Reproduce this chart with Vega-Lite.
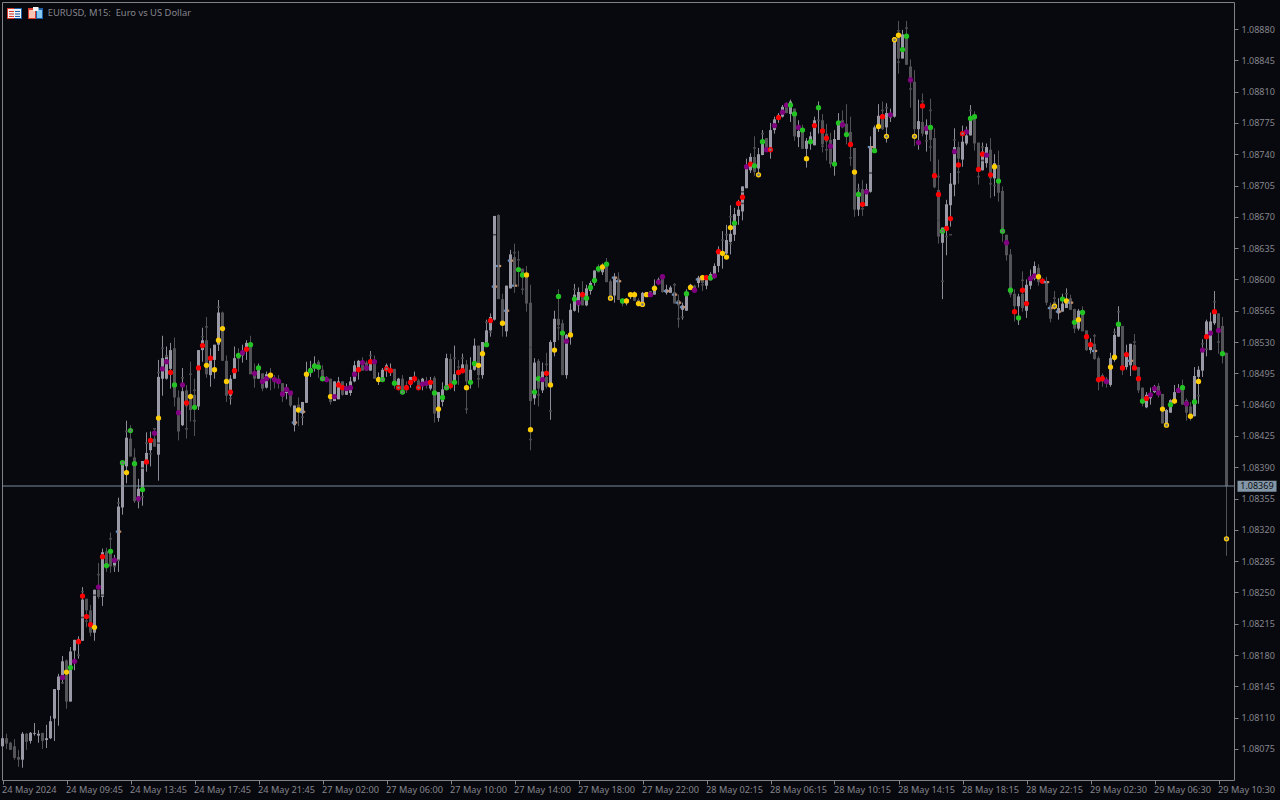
{"$schema":"https://vega.github.io/schema/vega-lite/v6.json","width":1232,"height":778,"autosize":{"type":"none"},"padding":{"left":2,"top":2,"right":46,"bottom":20},"background":"#08090e","config":{"view":{"stroke":"#7f8389","strokeWidth":1,"fill":"#08090e"}},
"datasets":{"bars":[
{"i":0,"o":1.08078,"h":1.08089,"l":1.08078,"c":1.08087},
{"i":1,"o":1.08087,"h":1.08092,"l":1.08075,"c":1.08081},
{"i":2,"o":1.08082,"h":1.08083,"l":1.08074,"c":1.08074},
{"i":3,"o":1.08078,"h":1.08086,"l":1.08063,"c":1.08065},
{"i":4,"o":1.08066,"h":1.08074,"l":1.08055,"c":1.08063},
{"i":5,"o":1.08063,"h":1.08094,"l":1.08054,"c":1.08092},
{"i":6,"o":1.08092,"h":1.08093,"l":1.08074,"c":1.08083},
{"i":7,"o":1.08084,"h":1.08094,"l":1.08081,"c":1.08093},
{"i":8,"o":1.08092,"h":1.08104,"l":1.0809,"c":1.08093},
{"i":9,"o":1.0809,"h":1.08096,"l":1.08082,"c":1.08092},
{"i":10,"o":1.08093,"h":1.08093,"l":1.08075,"c":1.08084},
{"i":11,"o":1.08085,"h":1.08102,"l":1.08076,"c":1.08087},
{"i":12,"o":1.08087,"h":1.08112,"l":1.08086,"c":1.08106},
{"i":13,"o":1.08109,"h":1.08142,"l":1.08084,"c":1.08142},
{"i":14,"o":1.08141,"h":1.08159,"l":1.08101,"c":1.08156},
{"i":15,"o":1.08156,"h":1.08179,"l":1.08148,"c":1.08173,"p":1.08155,"m":"purple"},
{"i":16,"o":1.08174,"h":1.08175,"l":1.0812,"c":1.08128,"p":1.08161,"m":"yellow"},
{"i":17,"o":1.08128,"h":1.08189,"l":1.08128,"c":1.08184,"p":1.08166,"m":"green"},
{"i":18,"o":1.08185,"h":1.08197,"l":1.08163,"c":1.08197,"p":1.08173,"m":"purple"},
{"i":19,"o":1.08195,"h":1.08201,"l":1.08176,"c":1.08198,"p":1.08195,"m":"red"},
{"i":20,"o":1.08196,"h":1.08256,"l":1.08196,"c":1.08242,"p":1.08246,"m":"red"},
{"i":21,"o":1.08243,"h":1.08243,"l":1.08211,"c":1.0823,"p":1.08223,"m":"red"},
{"i":22,"o":1.0823,"h":1.08236,"l":1.08201,"c":1.08205,"p":1.08214,"m":"red"},
{"i":23,"o":1.08205,"h":1.08253,"l":1.08196,"c":1.08253,"p":1.08211,"m":"yellow"},
{"i":24,"o":1.08253,"h":1.08283,"l":1.08243,"c":1.08245,"p":1.08256,"m":"purple"},
{"i":25,"o":1.08245,"h":1.08299,"l":1.08235,"c":1.08295,"p":1.0829,"m":"red"},
{"i":26,"o":1.08296,"h":1.083,"l":1.08273,"c":1.08277,"p":1.0828,"m":"green"},
{"i":27,"o":1.08294,"h":1.08317,"l":1.08272,"c":1.08279,"p":1.08296,"m":"green"},
{"i":28,"o":1.0828,"h":1.08292,"l":1.08273,"c":1.08288,"p":1.08286,"m":"purple"},
{"i":29,"o":1.08286,"h":1.08356,"l":1.08273,"c":1.08346,"p":1.08318,"m":"blue"},
{"i":30,"o":1.08345,"h":1.08397,"l":1.08337,"c":1.08396,"p":1.08395,"m":"green ring"},
{"i":31,"o":1.08391,"h":1.08442,"l":1.08372,"c":1.08423,"p":1.08384,"m":"yellow"},
{"i":32,"o":1.08422,"h":1.08437,"l":1.08402,"c":1.08402,"p":1.08431,"m":"green ring"},
{"i":33,"o":1.08401,"h":1.08411,"l":1.0835,"c":1.08352,"p":1.08394,"m":"green"},
{"i":34,"o":1.08353,"h":1.08377,"l":1.08344,"c":1.08366,"p":1.08355,"m":"purple"},
{"i":35,"o":1.08366,"h":1.08397,"l":1.08347,"c":1.08397,"p":1.08365,"m":"green"},
{"i":36,"o":1.08396,"h":1.08429,"l":1.08385,"c":1.08406,"p":1.08396,"m":"red"},
{"i":37,"o":1.08409,"h":1.0843,"l":1.08391,"c":1.08422,"p":1.0842,"m":"red"},
{"i":38,"o":1.08422,"h":1.08433,"l":1.08413,"c":1.08413,"p":1.08428,"m":"purple"},
{"i":39,"o":1.08404,"h":1.0851,"l":1.08375,"c":1.08491,"p":1.08445,"m":"yellow"},
{"i":40,"o":1.08489,"h":1.08537,"l":1.0847,"c":1.08512,"p":1.085,"m":"purple"},
{"i":41,"o":1.08489,"h":1.08525,"l":1.08488,"c":1.08515,"p":1.08508,"m":"purple"},
{"i":42,"o":1.085,"h":1.08529,"l":1.08478,"c":1.08521,"p":1.08496,"m":"red"},
{"i":43,"o":1.08523,"h":1.08535,"l":1.08458,"c":1.08468,"p":1.08482,"m":"green"},
{"i":44,"o":1.08468,"h":1.08476,"l":1.0842,"c":1.0843,"p":1.08451,"m":"purple"},
{"i":45,"o":1.08437,"h":1.08501,"l":1.08436,"c":1.08475,"p":1.08482,"m":"purple"},
{"i":46,"o":1.08476,"h":1.08482,"l":1.08422,"c":1.08458,"p":1.08462,"m":"red"},
{"i":47,"o":1.08472,"h":1.08508,"l":1.08441,"c":1.08454,"p":1.08469,"m":"yellow"},
{"i":48,"o":1.08471,"h":1.08489,"l":1.08425,"c":1.08456,"p":1.08457,"m":"green"},
{"i":49,"o":1.08458,"h":1.08521,"l":1.08454,"c":1.08521,"p":1.08501,"m":"red"},
{"i":50,"o":1.08521,"h":1.08546,"l":1.08508,"c":1.08532,"p":1.08526,"m":"red"},
{"i":51,"o":1.08532,"h":1.08558,"l":1.0849,"c":1.08494,"p":1.08504,"m":"yellow"},
{"i":52,"o":1.08493,"h":1.08523,"l":1.0848,"c":1.08514,"p":1.08512,"m":"red"},
{"i":53,"o":1.0851,"h":1.08527,"l":1.08489,"c":1.08527,"p":1.08499,"m":"yellow"},
{"i":54,"o":1.08527,"h":1.08577,"l":1.0852,"c":1.08563,"p":1.08532,"m":"yellow"},
{"i":55,"o":1.08563,"h":1.08564,"l":1.08509,"c":1.08509,"p":1.08545,"m":"yellow"},
{"i":56,"o":1.08509,"h":1.08515,"l":1.08463,"c":1.0847,"p":1.08486,"m":"yellow"},
{"i":57,"o":1.0847,"h":1.08493,"l":1.0846,"c":1.08489,"p":1.08474,"m":"red"},
{"i":58,"o":1.08489,"h":1.08525,"l":1.08489,"c":1.08512,"p":1.08498,"m":"red"},
{"i":59,"o":1.08515,"h":1.08523,"l":1.08497,"c":1.08511,"p":1.08515,"m":"green"},
{"i":60,"o":1.08515,"h":1.08527,"l":1.08507,"c":1.08518,"p":1.08518,"m":"purple"},
{"i":61,"o":1.08521,"h":1.08532,"l":1.0851,"c":1.08529,"p":1.08522,"m":"red"},
{"i":62,"o":1.08527,"h":1.08537,"l":1.08494,"c":1.08494,"p":1.08527,"m":"green"},
{"i":63,"o":1.08495,"h":1.08506,"l":1.08479,"c":1.08489,"p":1.08495,"m":"purple"},
{"i":64,"o":1.08489,"h":1.08506,"l":1.08489,"c":1.08501,"p":1.08501,"m":"green"},
{"i":65,"o":1.08495,"h":1.08495,"l":1.08475,"c":1.08478,"p":1.08486,"m":"purple"},
{"i":66,"o":1.08479,"h":1.08497,"l":1.08478,"c":1.08494,"p":1.08489,"m":"purple"},
{"i":67,"o":1.08494,"h":1.08501,"l":1.08476,"c":1.08489,"p":1.08493,"m":"yellow"},
{"i":68,"o":1.08489,"h":1.08493,"l":1.08478,"c":1.08485,"p":1.08488,"m":"purple"},
{"i":69,"o":1.08489,"h":1.08493,"l":1.08478,"c":1.08485,"p":1.08486,"m":"purple"},
{"i":70,"o":1.08484,"h":1.08484,"l":1.08463,"c":1.08469,"p":1.08472,"m":"purple"},
{"i":71,"o":1.08473,"h":1.08483,"l":1.08466,"c":1.08478,"p":1.08477,"m":"purple"},
{"i":72,"o":1.08475,"h":1.08475,"l":1.08457,"c":1.08459,"p":1.08473,"m":"purple"},
{"i":73,"o":1.08437,"h":1.08459,"l":1.0843,"c":1.08459,"p":1.0844,"m":"blue"},
{"i":74,"o":1.0846,"h":1.08468,"l":1.08436,"c":1.08454,"p":1.08454,"m":"yellow"},
{"i":75,"o":1.0845,"h":1.08463,"l":1.08437,"c":1.08463,"p":1.08452,"m":"blue"},
{"i":76,"o":1.08462,"h":1.08508,"l":1.08462,"c":1.08493,"p":1.08494,"m":"yellow"},
{"i":77,"o":1.08497,"h":1.08509,"l":1.08491,"c":1.08501,"p":1.08498,"m":"green"},
{"i":78,"o":1.08503,"h":1.08514,"l":1.08497,"c":1.08506,"p":1.08503,"m":"green"},
{"i":79,"o":1.08508,"h":1.0851,"l":1.0849,"c":1.08499,"p":1.08502,"m":"green"},
{"i":80,"o":1.08499,"h":1.08504,"l":1.08486,"c":1.08489,"p":1.08489,"m":"green ring"},
{"i":81,"o":1.08491,"h":1.08492,"l":1.08485,"c":1.08486,"p":1.08488,"m":"purple"},
{"i":82,"o":1.08489,"h":1.08489,"l":1.0846,"c":1.08463,"p":1.08469,"m":"yellow"},
{"i":83,"o":1.08464,"h":1.08486,"l":1.08464,"c":1.08486,"p":1.08469,"m":"purple"},
{"i":84,"o":1.08466,"h":1.08491,"l":1.08466,"c":1.08486,"p":1.08482,"m":"red"},
{"i":85,"o":1.08486,"h":1.08486,"l":1.0847,"c":1.08471,"p":1.08479,"m":"red"},
{"i":86,"o":1.08471,"h":1.08484,"l":1.08471,"c":1.0848,"p":1.08478,"m":"purple"},
{"i":87,"o":1.08473,"h":1.08491,"l":1.0847,"c":1.08486,"p":1.08479,"m":"purple"},
{"i":88,"o":1.08486,"h":1.08509,"l":1.08485,"c":1.08504,"p":1.08494,"m":"purple"},
{"i":89,"o":1.08497,"h":1.0851,"l":1.08488,"c":1.08509,"p":1.08499,"m":"red"},
{"i":90,"o":1.08509,"h":1.08513,"l":1.08498,"c":1.08498,"p":1.08507,"m":"purple"},
{"i":91,"o":1.08507,"h":1.08509,"l":1.08498,"c":1.08498,"p":1.08501,"m":"purple"},
{"i":92,"o":1.08498,"h":1.0852,"l":1.08498,"c":1.0851,"p":1.08508,"m":"red"},
{"i":93,"o":1.0851,"h":1.08515,"l":1.08489,"c":1.08489,"p":1.08508,"m":"purple"},
{"i":94,"o":1.08486,"h":1.08496,"l":1.08482,"c":1.08491,"p":1.08488,"m":"yellow"},
{"i":95,"o":1.08488,"h":1.08501,"l":1.08486,"c":1.08499,"p":1.08488,"m":"green ring"},
{"i":96,"o":1.08499,"h":1.08506,"l":1.08491,"c":1.08504,"p":1.085,"m":"red ring"},
{"i":97,"o":1.08497,"h":1.08506,"l":1.08492,"c":1.085,"p":1.08498,"m":"red"},
{"i":98,"o":1.085,"h":1.085,"l":1.08478,"c":1.08482,"p":1.08484,"m":"green"},
{"i":99,"o":1.08482,"h":1.0849,"l":1.08476,"c":1.08489,"p":1.08479,"m":"red ring"},
{"i":100,"o":1.08489,"h":1.08493,"l":1.08471,"c":1.08475,"p":1.08474,"m":"green ring"},
{"i":101,"o":1.08482,"h":1.08486,"l":1.08473,"c":1.08476,"p":1.08479,"m":"red"},
{"i":102,"o":1.08482,"h":1.08491,"l":1.08479,"c":1.08491,"p":1.08485,"m":"red"},
{"i":103,"o":1.08487,"h":1.08497,"l":1.08485,"c":1.08491,"p":1.08489,"m":"red"},
{"i":104,"o":1.08487,"h":1.08489,"l":1.08476,"c":1.08478,"p":1.08479,"m":"red ring"},
{"i":105,"o":1.08482,"h":1.0849,"l":1.08476,"c":1.08489,"p":1.08483,"m":"purple"},
{"i":106,"o":1.08486,"h":1.08491,"l":1.08478,"c":1.08482,"p":1.08484,"m":"purple"},
{"i":107,"o":1.08478,"h":1.08491,"l":1.08476,"c":1.08487,"p":1.08485,"m":"red"},
{"i":108,"o":1.0849,"h":1.08492,"l":1.0844,"c":1.0845,"p":1.08473,"m":"green"},
{"i":109,"o":1.08445,"h":1.08474,"l":1.08441,"c":1.08474,"p":1.08455,"m":"yellow"},
{"i":110,"o":1.08463,"h":1.08485,"l":1.08458,"c":1.08477,"p":1.08468,"m":"green"},
{"i":111,"o":1.08478,"h":1.08517,"l":1.08476,"c":1.08512,"p":1.08479,"m":"green ring"},
{"i":112,"o":1.08511,"h":1.08517,"l":1.08477,"c":1.0848,"p":1.08481,"m":"red"},
{"i":113,"o":1.08485,"h":1.08526,"l":1.08475,"c":1.08494,"p":1.08485,"m":"green"},
{"i":114,"o":1.08499,"h":1.0851,"l":1.08482,"c":1.08495,"p":1.08496,"m":"red"},
{"i":115,"o":1.08497,"h":1.08517,"l":1.08495,"c":1.08505,"p":1.08498,"m":"red"},
{"i":116,"o":1.08505,"h":1.0851,"l":1.0845,"c":1.08486,"p":1.08479,"m":"yellow"},
{"i":117,"o":1.08485,"h":1.08513,"l":1.08478,"c":1.08499,"p":1.08485,"m":"green"},
{"i":118,"o":1.08499,"h":1.08534,"l":1.08498,"c":1.08526,"p":1.08506,"m":"green"},
{"i":119,"o":1.08526,"h":1.08526,"l":1.08479,"c":1.08493,"p":1.08504,"m":"yellow"},
{"i":120,"o":1.08493,"h":1.0853,"l":1.08489,"c":1.0853,"p":1.08517,"m":"yellow"},
{"i":121,"o":1.08527,"h":1.08555,"l":1.08525,"c":1.08543,"p":1.08527,"m":"green"},
{"i":122,"o":1.08543,"h":1.08562,"l":1.08536,"c":1.08558,"p":1.08554,"m":"red"},
{"i":123,"o":1.08555,"h":1.08671,"l":1.08554,"c":1.08671,"p":1.08592,"m":"blue"},
{"i":124,"o":1.08672,"h":1.08673,"l":1.08578,"c":1.08578,"p":1.08615,"m":"blue"},
{"i":125,"o":1.08578,"h":1.08584,"l":1.08536,"c":1.08552,"p":1.08551,"m":"yellow"},
{"i":126,"o":1.08542,"h":1.08593,"l":1.08536,"c":1.08593,"p":1.08565,"m":"blue"},
{"i":127,"o":1.0859,"h":1.08633,"l":1.0859,"c":1.08628,"p":1.08621,"m":"blue"},
{"i":128,"o":1.08625,"h":1.0864,"l":1.08585,"c":1.08592,"p":1.08593,"m":"blue"},
{"i":129,"o":1.08612,"h":1.08632,"l":1.08592,"c":1.08609,"p":1.08611,"m":"green"},
{"i":130,"o":1.08612,"h":1.08612,"l":1.08583,"c":1.08602,"p":1.08605,"m":"green"},
{"i":131,"o":1.08606,"h":1.08615,"l":1.08564,"c":1.08573,"p":1.08605,"m":"yellow"},
{"i":132,"o":1.08574,"h":1.08594,"l":1.08409,"c":1.08464,"p":1.08432,"m":"yellow"},
{"i":133,"o":1.08467,"h":1.08512,"l":1.0846,"c":1.08507,"p":1.08474,"m":"green"},
{"i":134,"o":1.08509,"h":1.08511,"l":1.08458,"c":1.08478,"p":1.08489,"m":"green"},
{"i":135,"o":1.08476,"h":1.08507,"l":1.08473,"c":1.08497,"p":1.08488,"m":"purple"},
{"i":136,"o":1.08491,"h":1.08518,"l":1.08478,"c":1.0848,"p":1.08495,"m":"red"},
{"i":137,"o":1.08482,"h":1.08532,"l":1.08443,"c":1.0853,"p":1.08482,"m":"yellow"},
{"i":138,"o":1.0853,"h":1.08565,"l":1.08514,"c":1.08556,"p":1.08521,"m":"yellow"},
{"i":139,"o":1.08556,"h":1.08589,"l":1.08532,"c":1.08549,"p":1.08581,"m":"green"},
{"i":140,"o":1.08551,"h":1.08555,"l":1.08493,"c":1.08493,"p":1.0854,"m":"green"},
{"i":141,"o":1.08493,"h":1.08539,"l":1.08489,"c":1.08538,"p":1.08531,"m":"purple"},
{"i":142,"o":1.08538,"h":1.08573,"l":1.08527,"c":1.08566,"p":1.08538,"m":"yellow"},
{"i":143,"o":1.08565,"h":1.08595,"l":1.08564,"c":1.08583,"p":1.08578,"m":"green"},
{"i":144,"o":1.08571,"h":1.08591,"l":1.08563,"c":1.08586,"p":1.08574,"m":"purple"},
{"i":145,"o":1.08586,"h":1.08598,"l":1.08571,"c":1.08571,"p":1.08583,"m":"red"},
{"i":146,"o":1.08571,"h":1.08594,"l":1.0857,"c":1.0859,"p":1.08579,"m":"green"},
{"i":147,"o":1.08587,"h":1.08598,"l":1.08583,"c":1.08596,"p":1.08591,"m":"green"},
{"i":148,"o":1.08596,"h":1.0861,"l":1.08593,"c":1.0861,"p":1.08599,"m":"green"},
{"i":149,"o":1.08614,"h":1.08617,"l":1.08608,"c":1.08608,"p":1.08612,"m":"green"},
{"i":150,"o":1.08608,"h":1.08618,"l":1.08605,"c":1.08615,"p":1.08614,"m":"yellow"},
{"i":151,"o":1.08618,"h":1.08624,"l":1.08597,"c":1.08597,"p":1.08617,"m":"green"},
{"i":152,"o":1.08598,"h":1.086,"l":1.08576,"c":1.08579,"p":1.08579,"m":"yellow ring"},
{"i":153,"o":1.08582,"h":1.08607,"l":1.08574,"c":1.08603,"p":1.08602,"m":"blue"},
{"i":154,"o":1.08601,"h":1.08608,"l":1.08577,"c":1.08577,"p":1.08598,"m":"blue"},
{"i":155,"o":1.08578,"h":1.08579,"l":1.0857,"c":1.08573,"p":1.08576,"m":"green"},
{"i":156,"o":1.08574,"h":1.08579,"l":1.08571,"c":1.08578,"p":1.08576,"m":"yellow"},
{"i":157,"o":1.08581,"h":1.08585,"l":1.08578,"c":1.08584,"p":1.08583,"m":"yellow"},
{"i":158,"o":1.08585,"h":1.08587,"l":1.08576,"c":1.08576,"p":1.08583,"m":"yellow"},
{"i":159,"o":1.08577,"h":1.08579,"l":1.0857,"c":1.0857,"p":1.08573,"m":"yellow"},
{"i":160,"o":1.08571,"h":1.08586,"l":1.0857,"c":1.08585,"p":1.08572,"m":"yellow ring"},
{"i":161,"o":1.08581,"h":1.08586,"l":1.08581,"c":1.08586,"p":1.08583,"m":"yellow"},
{"i":162,"o":1.08587,"h":1.08587,"l":1.08581,"c":1.08581,"p":1.08583,"m":"purple"},
{"i":163,"o":1.08583,"h":1.086,"l":1.08583,"c":1.08593,"p":1.0859,"m":"yellow"},
{"i":164,"o":1.08596,"h":1.08602,"l":1.08594,"c":1.086,"p":1.08597,"m":"purple"},
{"i":165,"o":1.08602,"h":1.08605,"l":1.08585,"c":1.08586,"p":1.08603,"m":"purple"},
{"i":166,"o":1.08585,"h":1.08594,"l":1.08583,"c":1.08589,"p":1.08587,"m":"blue"},
{"i":167,"o":1.08585,"h":1.08593,"l":1.08585,"c":1.08591},
{"i":168,"o":1.08586,"h":1.08596,"l":1.08573,"c":1.08573,"p":1.08583,"m":"blue"},
{"i":169,"o":1.08577,"h":1.08583,"l":1.08546,"c":1.08571,"p":1.08574,"m":"blue"},
{"i":170,"o":1.08566,"h":1.08574,"l":1.08555,"c":1.08571,"p":1.08569,"m":"blue"},
{"i":171,"o":1.08565,"h":1.08589,"l":1.08565,"c":1.08586,"p":1.08584,"m":"green"},
{"i":172,"o":1.08589,"h":1.08595,"l":1.08588,"c":1.08594,"p":1.08591,"m":"yellow"},
{"i":173,"o":1.08593,"h":1.08594,"l":1.08585,"c":1.08586,"p":1.08588,"m":"purple"},
{"i":174,"o":1.08596,"h":1.08604,"l":1.08591,"c":1.08602,"p":1.086,"m":"blue"},
{"i":175,"o":1.08604,"h":1.08605,"l":1.08587,"c":1.08596,"p":1.08602,"m":"yellow"},
{"i":176,"o":1.08593,"h":1.08605,"l":1.08589,"c":1.08604,"p":1.08602,"m":"red"},
{"i":177,"o":1.08599,"h":1.08608,"l":1.08599,"c":1.08606,"p":1.08602,"m":"green"},
{"i":178,"o":1.08605,"h":1.08618,"l":1.08601,"c":1.08615,"p":1.08604,"m":"purple"},
{"i":179,"o":1.08615,"h":1.08637,"l":1.08608,"c":1.08633,"p":1.08631,"m":"red"},
{"i":180,"o":1.08627,"h":1.08654,"l":1.08612,"c":1.08631,"p":1.08629,"m":"yellow"},
{"i":181,"o":1.08629,"h":1.08661,"l":1.08625,"c":1.08644,"p":1.08625,"m":"yellow"},
{"i":182,"o":1.08642,"h":1.08683,"l":1.08628,"c":1.08651,"p":1.08658,"m":"yellow"},
{"i":183,"o":1.0865,"h":1.0868,"l":1.08643,"c":1.08673,"p":1.08663,"m":"green"},
{"i":184,"o":1.08671,"h":1.08689,"l":1.08661,"c":1.08678,"p":1.08685,"m":"red"},
{"i":185,"o":1.08676,"h":1.08704,"l":1.08666,"c":1.08704,"p":1.08692,"m":"red"},
{"i":186,"o":1.08702,"h":1.08735,"l":1.08702,"c":1.08724,"p":1.08726,"m":"purple"},
{"i":187,"o":1.08722,"h":1.08741,"l":1.08719,"c":1.08737,"p":1.08729,"m":"red"},
{"i":188,"o":1.08737,"h":1.0876,"l":1.08716,"c":1.0872,"p":1.08727,"m":"green"},
{"i":189,"o":1.08724,"h":1.08747,"l":1.08717,"c":1.0874,"p":1.08717,"m":"yellow ring"},
{"i":190,"o":1.08739,"h":1.08767,"l":1.08739,"c":1.08756,"p":1.08754,"m":"green"},
{"i":191,"o":1.08758,"h":1.08758,"l":1.08743,"c":1.08743,"p":1.08745,"m":"purple"},
{"i":192,"o":1.08745,"h":1.08775,"l":1.08735,"c":1.08767,"p":1.08745,"m":"red ring"},
{"i":193,"o":1.08767,"h":1.08782,"l":1.08763,"c":1.08779,"p":1.08772,"m":"purple"},
{"i":194,"o":1.0878,"h":1.08786,"l":1.08775,"c":1.08784,"p":1.08781,"m":"red"},
{"i":195,"o":1.08782,"h":1.08795,"l":1.08781,"c":1.08793,"p":1.08787,"m":"purple"},
{"i":196,"o":1.08797,"h":1.08798,"l":1.08786,"c":1.08786,"p":1.08795,"m":"purple"},
{"i":197,"o":1.08785,"h":1.08801,"l":1.08776,"c":1.08799,"p":1.08795,"m":"green"},
{"i":198,"o":1.08791,"h":1.08791,"l":1.08755,"c":1.0876,"p":1.08785,"m":"green"},
{"i":199,"o":1.08759,"h":1.08778,"l":1.08748,"c":1.08766,"p":1.0877,"m":"purple"},
{"i":200,"o":1.08767,"h":1.08773,"l":1.08746,"c":1.08746,"p":1.08767,"m":"green"},
{"i":201,"o":1.08746,"h":1.08758,"l":1.08725,"c":1.08755,"p":1.08735,"m":"yellow"},
{"i":202,"o":1.08752,"h":1.08765,"l":1.08745,"c":1.0876,"p":1.08754,"m":"green"},
{"i":203,"o":1.0875,"h":1.08782,"l":1.0875,"c":1.08778,"p":1.08772,"m":"red"},
{"i":204,"o":1.08777,"h":1.08799,"l":1.08763,"c":1.08778,"p":1.08792,"m":"green"},
{"i":205,"o":1.08778,"h":1.08785,"l":1.08742,"c":1.08751,"p":1.08766,"m":"red"},
{"i":206,"o":1.08763,"h":1.08774,"l":1.08733,"c":1.08754,"p":1.08758,"m":"red"},
{"i":207,"o":1.08756,"h":1.08764,"l":1.08725,"c":1.08729,"p":1.08749,"m":"purple"},
{"i":208,"o":1.08729,"h":1.08767,"l":1.08716,"c":1.08757,"p":1.08729,"m":"green"},
{"i":209,"o":1.08756,"h":1.08786,"l":1.08756,"c":1.08776,"p":1.08775,"m":"green"},
{"i":210,"o":1.08778,"h":1.08789,"l":1.08769,"c":1.0877,"p":1.08773,"m":"purple"},
{"i":211,"o":1.08774,"h":1.08796,"l":1.08751,"c":1.08761,"p":1.08762,"m":"green"},
{"i":212,"o":1.08765,"h":1.08782,"l":1.08727,"c":1.08748,"p":1.08751,"m":"red"},
{"i":213,"o":1.08747,"h":1.08747,"l":1.0867,"c":1.08678,"p":1.0872,"m":"yellow"},
{"i":214,"o":1.08678,"h":1.08707,"l":1.08671,"c":1.08698,"p":1.08695,"m":"green"},
{"i":215,"o":1.08701,"h":1.08711,"l":1.08671,"c":1.08681,"p":1.08684,"m":"red"},
{"i":216,"o":1.08682,"h":1.08707,"l":1.08682,"c":1.08701,"p":1.08698,"m":"purple"},
{"i":217,"o":1.08698,"h":1.0876,"l":1.08697,"c":1.08749,"p":1.08748,"m":"blue"},
{"i":218,"o":1.08744,"h":1.08772,"l":1.08743,"c":1.0877,"p":1.08744,"m":"green"},
{"i":219,"o":1.0877,"h":1.08796,"l":1.08765,"c":1.08783,"p":1.08771,"m":"yellow"},
{"i":220,"o":1.08785,"h":1.08799,"l":1.08767,"c":1.08768,"p":1.08782,"m":"red"},
{"i":221,"o":1.0877,"h":1.08797,"l":1.08753,"c":1.08786,"p":1.0876,"m":"yellow ring"},
{"i":222,"o":1.08781,"h":1.08791,"l":1.08776,"c":1.08786,"p":1.08784,"m":"purple"},
{"i":223,"o":1.08782,"h":1.08871,"l":1.08781,"c":1.08871,"p":1.08868,"m":"yellow ring"},
{"i":224,"o":1.08874,"h":1.08889,"l":1.0883,"c":1.08847,"p":1.08873,"m":"yellow"},
{"i":225,"o":1.08847,"h":1.08879,"l":1.08847,"c":1.08874,"p":1.08857,"m":"green"},
{"i":226,"o":1.08873,"h":1.08889,"l":1.0884,"c":1.0884,"p":1.08872,"m":"green"},
{"i":227,"o":1.08838,"h":1.08846,"l":1.08792,"c":1.08821,"p":1.08823,"m":"purple"},
{"i":228,"o":1.08821,"h":1.08834,"l":1.08749,"c":1.08768,"p":1.0876,"m":"yellow ring"},
{"i":229,"o":1.08768,"h":1.08801,"l":1.08745,"c":1.08777,"p":1.08753,"m":"purple"},
{"i":230,"o":1.08776,"h":1.08808,"l":1.0876,"c":1.08763,"p":1.08794,"m":"red"},
{"i":231,"o":1.08762,"h":1.08779,"l":1.08743,"c":1.08772,"p":1.08769,"m":"purple"},
{"i":232,"o":1.08772,"h":1.08802,"l":1.08732,"c":1.08756,"p":1.0877,"m":"green"},
{"i":233,"o":1.08758,"h":1.08769,"l":1.08702,"c":1.08703,"p":1.08716,"m":"red"},
{"i":234,"o":1.087,"h":1.08734,"l":1.0864,"c":1.08648,"p":1.08695,"m":"red"},
{"i":235,"o":1.08641,"h":1.08658,"l":1.08578,"c":1.08658,"p":1.08654,"m":"green ring"},
{"i":236,"o":1.08658,"h":1.08689,"l":1.08627,"c":1.08684,"p":1.08657,"m":"red"},
{"i":237,"o":1.08683,"h":1.08719,"l":1.08659,"c":1.08707,"p":1.08668,"m":"red"},
{"i":238,"o":1.08706,"h":1.08769,"l":1.08693,"c":1.08748,"p":1.08743,"m":"purple"},
{"i":239,"o":1.08748,"h":1.08754,"l":1.08707,"c":1.08735,"p":1.08728,"m":"red"},
{"i":240,"o":1.08734,"h":1.08772,"l":1.08726,"c":1.08754,"p":1.08763,"m":"red ring"},
{"i":241,"o":1.08752,"h":1.08771,"l":1.0875,"c":1.08761,"p":1.08765,"m":"purple"},
{"i":242,"o":1.08761,"h":1.08795,"l":1.08761,"c":1.0878,"p":1.0878,"m":"green"},
{"i":243,"o":1.08784,"h":1.08788,"l":1.08744,"c":1.08752,"p":1.08782,"m":"green"},
{"i":244,"o":1.08753,"h":1.08753,"l":1.08706,"c":1.08722,"p":1.08723,"m":"red"},
{"i":245,"o":1.08722,"h":1.08753,"l":1.08722,"c":1.08743,"p":1.0874,"m":"red"},
{"i":246,"o":1.0873,"h":1.08752,"l":1.08725,"c":1.08748,"p":1.08739,"m":"purple"},
{"i":247,"o":1.08745,"h":1.08758,"l":1.08691,"c":1.08713,"p":1.08717,"m":"red"},
{"i":248,"o":1.08713,"h":1.0874,"l":1.08693,"c":1.0873,"p":1.08726,"m":"yellow"},
{"i":249,"o":1.08728,"h":1.08744,"l":1.08687,"c":1.08697,"p":1.0871,"m":"green"},
{"i":250,"o":1.08699,"h":1.08704,"l":1.08642,"c":1.08653,"p":1.08654,"m":"green ring"},
{"i":251,"o":1.0865,"h":1.0865,"l":1.08621,"c":1.08627,"p":1.08641,"m":"purple"},
{"i":252,"o":1.08628,"h":1.08634,"l":1.0858,"c":1.08583,"p":1.08588,"m":"green"},
{"i":253,"o":1.08584,"h":1.08589,"l":1.08553,"c":1.0857,"p":1.08564,"m":"red"},
{"i":254,"o":1.0857,"h":1.08584,"l":1.08549,"c":1.08581,"p":1.08557,"m":"green"},
{"i":255,"o":1.08584,"h":1.08609,"l":1.08564,"c":1.08568,"p":1.08588,"m":"red"},
{"i":256,"o":1.08565,"h":1.086,"l":1.08557,"c":1.08594,"p":1.08573,"m":"red"},
{"i":257,"o":1.08593,"h":1.08611,"l":1.08589,"c":1.08603,"p":1.08601,"m":"purple"},
{"i":258,"o":1.08601,"h":1.0862,"l":1.08599,"c":1.08615,"p":1.08604,"m":"purple"},
{"i":259,"o":1.08613,"h":1.08617,"l":1.08593,"c":1.08597,"p":1.08603,"m":"yellow"},
{"i":260,"o":1.08599,"h":1.08602,"l":1.08595,"c":1.08596,"p":1.08598,"m":"red"},
{"i":261,"o":1.08597,"h":1.08603,"l":1.08571,"c":1.08574,"p":1.08597,"m":"blue"},
{"i":262,"o":1.08571,"h":1.08574,"l":1.08552,"c":1.08556,"p":1.08568,"m":"blue"},
{"i":263,"o":1.08575,"h":1.08587,"l":1.08566,"c":1.0857,"p":1.0857,"m":"yellow ring"},
{"i":264,"o":1.08562,"h":1.08579,"l":1.08555,"c":1.08568,"p":1.08564,"m":"blue"},
{"i":265,"o":1.08564,"h":1.08584,"l":1.08564,"c":1.08573,"p":1.08578,"m":"green"},
{"i":266,"o":1.08568,"h":1.0859,"l":1.08568,"c":1.08577,"p":1.08576,"m":"yellow"},
{"i":267,"o":1.08579,"h":1.08583,"l":1.08566,"c":1.08566,"p":1.08574,"m":"blue"},
{"i":268,"o":1.08567,"h":1.08567,"l":1.0854,"c":1.08545,"p":1.08552,"m":"green"},
{"i":269,"o":1.08545,"h":1.08567,"l":1.08543,"c":1.08565,"p":1.08555,"m":"yellow"},
{"i":270,"o":1.08564,"h":1.0857,"l":1.08542,"c":1.08542,"p":1.08563,"m":"green"},
{"i":271,"o":1.08543,"h":1.08543,"l":1.0852,"c":1.08521,"p":1.08536,"m":"red"},
{"i":272,"o":1.08521,"h":1.08534,"l":1.08517,"c":1.08529,"p":1.08527,"m":"red"},
{"i":273,"o":1.08528,"h":1.08539,"l":1.0851,"c":1.08511,"p":1.0852,"m":"blue"},
{"i":274,"o":1.08512,"h":1.08514,"l":1.08476,"c":1.08485,"p":1.08488,"m":"red"},
{"i":275,"o":1.08493,"h":1.08495,"l":1.0848,"c":1.08486,"p":1.08489,"m":"red"},
{"i":276,"o":1.08489,"h":1.08491,"l":1.08479,"c":1.08483,"p":1.08486,"m":"purple"},
{"i":277,"o":1.08482,"h":1.08518,"l":1.0848,"c":1.08512,"p":1.08502,"m":"yellow"},
{"i":278,"o":1.0851,"h":1.08545,"l":1.08508,"c":1.08538,"p":1.08513,"m":"yellow"},
{"i":279,"o":1.08536,"h":1.0857,"l":1.08536,"c":1.08549,"p":1.0855,"m":"green"},
{"i":280,"o":1.08548,"h":1.08548,"l":1.08493,"c":1.08502,"p":1.08501,"m":"red"},
{"i":281,"o":1.08502,"h":1.08527,"l":1.08499,"c":1.08518,"p":1.08516,"m":"red"},
{"i":282,"o":1.08504,"h":1.08528,"l":1.08492,"c":1.08528,"p":1.08509,"m":"blue"},
{"i":283,"o":1.08527,"h":1.08539,"l":1.08499,"c":1.08502,"p":1.08501,"m":"red"},
{"i":284,"o":1.08502,"h":1.08502,"l":1.08473,"c":1.08476,"p":1.08489,"m":"red"},
{"i":285,"o":1.08479,"h":1.08479,"l":1.08458,"c":1.08461,"p":1.08464,"m":"green"},
{"i":286,"o":1.08457,"h":1.08474,"l":1.08456,"c":1.08471,"p":1.08467,"m":"red"},
{"i":287,"o":1.08467,"h":1.08479,"l":1.0846,"c":1.08473,"p":1.08471,"m":"purple"},
{"i":288,"o":1.08474,"h":1.08482,"l":1.08473,"c":1.0848,"p":1.08478,"m":"purple"},
{"i":289,"o":1.08481,"h":1.08484,"l":1.08468,"c":1.08473,"p":1.08473,"m":"purple"},
{"i":290,"o":1.08472,"h":1.08472,"l":1.08439,"c":1.08439,"p":1.08455,"m":"yellow"},
{"i":291,"o":1.08439,"h":1.08455,"l":1.08435,"c":1.08454,"p":1.08437,"m":"yellow ring"},
{"i":292,"o":1.08451,"h":1.08466,"l":1.08451,"c":1.08465,"p":1.0846,"m":"green"},
{"i":293,"o":1.08463,"h":1.08482,"l":1.08461,"c":1.08474,"p":1.08464,"m":"yellow"},
{"i":294,"o":1.08473,"h":1.08483,"l":1.08473,"c":1.08478,"p":1.08476,"m":"purple"},
{"i":295,"o":1.08482,"h":1.08488,"l":1.0846,"c":1.0846,"p":1.08479,"m":"green"},
{"i":296,"o":1.08465,"h":1.08467,"l":1.08442,"c":1.08451,"p":1.08461,"m":"purple"},
{"i":297,"o":1.08458,"h":1.08463,"l":1.08442,"c":1.08447,"p":1.08447,"m":"yellow"},
{"i":298,"o":1.08447,"h":1.08502,"l":1.08447,"c":1.08492,"p":1.08463,"m":"green"},
{"i":299,"o":1.08491,"h":1.08503,"l":1.08461,"c":1.08499,"p":1.08486,"m":"yellow"},
{"i":300,"o":1.08498,"h":1.08533,"l":1.08491,"c":1.08519,"p":1.08521,"m":"purple"},
{"i":301,"o":1.08534,"h":1.08555,"l":1.08514,"c":1.08553,"p":1.08536,"m":"red"},
{"i":302,"o":1.08521,"h":1.08563,"l":1.08521,"c":1.08553,"p":1.0854,"m":"purple"},
{"i":303,"o":1.08551,"h":1.08587,"l":1.08549,"c":1.08562,"p":1.08564,"m":"red"},
{"i":304,"o":1.08562,"h":1.08562,"l":1.08517,"c":1.08545,"p":1.08543,"m":"purple"},
{"i":305,"o":1.08548,"h":1.08558,"l":1.08506,"c":1.08517,"p":1.08517,"m":"green"},
{"i":306,"o":1.08518,"h":1.08518,"l":1.08291,"c":1.08369,"p":1.0831,"m":"yellow ring"}
],
"ticks":[
{"i":15,"p":1.08149},{"i":19,"p":1.0818},{"i":20,"p":1.08222},{"i":20,"p":1.08251},{"i":21,"p":1.08218},{"i":23,"p":1.08247},{"i":24,"p":1.0827},{"i":25,"p":1.08247},{"i":27,"p":1.0831},{"i":28,"p":1.08279},{"i":29,"p":1.0835},{"i":29,"p":1.08286},{"i":31,"p":1.0843},{"i":34,"p":1.08352},{"i":35,"p":1.08389},{"i":35,"p":1.08357},{"i":36,"p":1.08417},{"i":37,"p":1.08405},{"i":39,"p":1.08417},{"i":38,"p":1.08433},{"i":39,"p":1.08496},{"i":40,"p":1.08523},{"i":41,"p":1.08514},{"i":45,"p":1.0849},{"i":46,"p":1.08433},{"i":47,"p":1.08494},{"i":48,"p":1.08476},{"i":48,"p":1.08442},{"i":50,"p":1.08536},{"i":51,"p":1.08547},{"i":54,"p":1.08569},{"i":57,"p":1.08467},{"i":74,"p":1.08458},{"i":75,"p":1.08446},
{"i":92,"p":1.08515},{"i":113,"p":1.08512},{"i":114,"p":1.08502},{"i":115,"p":1.08512},{"i":116,"p":1.08455},{"i":119,"p":1.08489},{"i":121,"p":1.08552},{"i":122,"p":1.08541},{"i":123,"p":1.0865},{"i":128,"p":1.0863},{"i":129,"p":1.08622},{"i":130,"p":1.08589},{"i":132,"p":1.08524},{"i":132,"p":1.08421},{"i":134,"p":1.08471},{"i":136,"p":1.08505},{"i":137,"p":1.08453},{"i":139,"p":1.08546},{"i":143,"p":1.08589},
{"i":168,"p":1.08594},{"i":169,"p":1.08556},{"i":170,"p":1.08558},{"i":175,"p":1.08594},{"i":180,"p":1.08644},{"i":181,"p":1.0865},{"i":182,"p":1.0867},{"i":182,"p":1.0864},
{"i":185,"p":1.08698},{"i":185,"p":1.08685},{"i":188,"p":1.08747},{"i":190,"p":1.08763},{"i":204,"p":1.08778},{"i":205,"p":1.08749},{"i":206,"p":1.08745},{"i":212,"p":1.08736},{"i":214,"p":1.08701},{"i":215,"p":1.08679},{"i":217,"p":1.08719},{"i":220,"p":1.08789},{"i":221,"p":1.08792},{"i":224,"p":1.08878},{"i":224,"p":1.08843},{"i":226,"p":1.08881},{"i":227,"p":1.08813},{"i":230,"p":1.08799},{"i":231,"p":1.08755},{"i":232,"p":1.08789},{"i":232,"p":1.08748},{"i":234,"p":1.08715},{"i":234,"p":1.08666},{"i":235,"p":1.08598},{"i":236,"p":1.08648},{"i":237,"p":1.0865},{"i":238,"p":1.08756},{"i":239,"p":1.0872},{"i":242,"p":1.08789},{"i":244,"p":1.08715},
{"i":245,"p":1.08748},{"i":245,"p":1.08733},{"i":247,"p":1.08707},{"i":248,"p":1.08705},{"i":255,"p":1.08599},{"i":263,"p":1.08579},{"i":266,"p":1.08584},{"i":273,"p":1.08537},{"i":278,"p":1.08541},{"i":279,"p":1.08564},{"i":283,"p":1.0853},{"i":299,"p":1.0847},{"i":300,"p":1.08528},{"i":301,"p":1.08522},{"i":303,"p":1.08575},{"i":304,"p":1.0853}
],
"icons":[
{"part":"a red","x1":1.125,"x2":3,"y1":1.089035,"y2":1.088912},
{"part":"b blue","x1":3,"x2":4.875,"y1":1.089035,"y2":1.088912},
{"part":"c white","x1":1.375,"x2":4.625,"y1":1.089024,"y2":1.088923},
{"part":"a red","x1":1.625,"x2":2.875,"y1":1.089002,"y2":1.08899},
{"part":"a red","x1":1.625,"x2":2.875,"y1":1.088974,"y2":1.088962},
{"part":"a red","x1":1.625,"x2":2.875,"y1":1.088946,"y2":1.088934},
{"part":"b blue","x1":3.125,"x2":4.375,"y1":1.089002,"y2":1.08899},
{"part":"b blue","x1":3.125,"x2":4.375,"y1":1.088974,"y2":1.088962},
{"part":"b blue","x1":3.125,"x2":4.375,"y1":1.088946,"y2":1.088934},
{"part":"a red","x1":6.375,"x2":8.375,"y1":1.089035,"y2":1.088912},
{"part":"b blue","x1":8.375,"x2":10.125,"y1":1.089035,"y2":1.088912},
{"part":"d pink","x1":6.625,"x2":8.125,"y1":1.089013,"y2":1.088923},
{"part":"e sky","x1":8.625,"x2":9.875,"y1":1.089013,"y2":1.088923},
{"part":"c white","x1":7.625,"x2":9,"y1":1.089046,"y2":1.089002}
]},
"layer":[
{"data":{"name":"bars"},"mark":{"type":"rule","strokeWidth":1},"encoding":{
"x":{"field":"i","type":"quantitative","scale":{"domain":[-0.125,307.875],"nice":false,"zero":false},"axis":{"title":null,"values":[0,16,32,48,64,80,96,112,128,144,160,176,192,208,224,240,256,272,288,304],"grid":false,"domain":false,"tickColor":"#7f8389","tickSize":4,"labelColor":"#85858d","labelFont":"Noto Sans","labelFontSize":9.2,"labelAlign":"left","labelPadding":1,"labelOffset":-1,"labelFlush":false,"labelOverlap":false,"tickCount":40,"labelExpr":"['24 May 2024','24 May 09:45','24 May 13:45','24 May 17:45','24 May 21:45','27 May 02:00','27 May 06:00','27 May 10:00','27 May 14:00','27 May 18:00','27 May 22:00','28 May 02:15','28 May 06:15','28 May 10:15','28 May 14:15','28 May 18:15','28 May 22:15','29 May 02:30','29 May 06:30','29 May 10:30'][datum.value/16]"}},
"y":{"field":"l","type":"quantitative","scale":{"domain":[1.080403,1.089102],"nice":false,"zero":false},"axis":{"title":null,"orient":"right","values":[1.08075,1.0811,1.08145,1.0818,1.08215,1.0825,1.08285,1.0832,1.08355,1.0839,1.08425,1.0846,1.08495,1.0853,1.08565,1.086,1.08635,1.0867,1.08705,1.0874,1.08775,1.0881,1.08845,1.0888],"tickCount":40,"format":".5f","grid":false,"domain":false,"tickColor":"#7f8389","tickSize":4,"labelColor":"#85858d","labelFont":"Noto Sans","labelFontSize":9,"labelPadding":3,"labelFlush":false,"labelOverlap":false}},
"y2":{"field":"h"},
"color":{"condition":{"test":"datum.c>=datum.o","value":"#8d8d99"},"value":"#525256"}}},
{"data":{"name":"bars"},"mark":{"type":"rule","strokeWidth":3},"encoding":{
"x":{"field":"i","type":"quantitative"},
"y":{"field":"o","type":"quantitative"},
"y2":{"field":"c"},
"color":{"condition":{"test":"datum.c>=datum.o","value":"#9a9aa6"},"value":"#545458"}}},
{"data":{"name":"ticks"},"mark":{"type":"tick","orient":"horizontal","size":3,"thickness":1.6,"color":"#47474b","opacity":1},"encoding":{
"x":{"field":"i","type":"quantitative"},
"y":{"field":"p","type":"quantitative"}}},
{"data":{"name":"bars"},"transform":[{"filter":"indexof(['red','green','yellow','purple'],datum.m)>=0"}],"mark":{"type":"point","filled":true,"opacity":1,"shape":"circle","size":28},"encoding":{
"x":{"field":"i","type":"quantitative"},
"y":{"field":"p","type":"quantitative"},
"fill":{"field":"m","type":"nominal","legend":null,"scale":{"domain":["red","green","yellow","purple"],"range":["#ff0000","#22c322","#ffcc00","#800080"]}}}},
{"data":{"name":"bars"},"transform":[{"filter":"indexof(['red ring','green ring','yellow ring'],datum.m)>=0"}],"mark":{"type":"point","filled":false,"opacity":1,"shape":"circle","size":16,"strokeWidth":1.3,"fill":"#77777f","fillOpacity":1},"encoding":{
"x":{"field":"i","type":"quantitative"},
"y":{"field":"p","type":"quantitative"},
"stroke":{"field":"m","type":"nominal","legend":null,"scale":{"domain":["red ring","green ring","yellow ring"],"range":["#ff0000","#22c322","#ffcc00"]}}}},
{"data":{"name":"bars"},"transform":[{"filter":"datum.m==='blue'"}],"mark":{"type":"point","filled":true,"opacity":1,"shape":"square","size":5,"color":"#6f8fb8","xOffset":-1.6},"encoding":{
"x":{"field":"i","type":"quantitative"},
"y":{"field":"p","type":"quantitative"}}},
{"data":{"name":"bars"},"transform":[{"filter":"datum.m==='blue'"}],"mark":{"type":"point","filled":true,"opacity":1,"shape":"square","size":5,"color":"#c09070","xOffset":1.6},"encoding":{
"x":{"field":"i","type":"quantitative"},
"y":{"field":"p","type":"quantitative"}}},
{"data":{"values":[{"price":1.08369}]},"mark":{"type":"rule","strokeWidth":1,"color":"#7b8b9b"},"encoding":{"y":{"field":"price","type":"quantitative"}}},
{"data":{"values":[{"a":308.75,"b":318.5,"t":1.08375,"u":1.083625}]},"mark":{"type":"rect","color":"#8497a8","clip":false},"encoding":{"x":{"field":"a","type":"quantitative"},"x2":{"field":"b"},"y":{"field":"t","type":"quantitative"},"y2":{"field":"u"}}},
{"data":{"values":[{"a":313.6,"price":1.08369,"label":"1.08369"}]},"mark":{"type":"text","color":"#0a0c10","font":"Noto Sans","fontSize":9,"align":"center","baseline":"middle"},"encoding":{"x":{"field":"a","type":"quantitative"},"y":{"field":"price","type":"quantitative"},"text":{"field":"label"}}},
{"data":{"values":[{"a":11.3,"price":1.08898,"label":"EURUSD, M15:\u00a0\u00a0Euro vs US Dollar"}]},"mark":{"type":"text","color":"#85858d","font":"Noto Sans","fontSize":9.4,"align":"left","baseline":"middle"},"encoding":{"x":{"field":"a","type":"quantitative"},"y":{"field":"price","type":"quantitative"},"text":{"field":"label"}}},
{"data":{"name":"icons"},"mark":{"type":"rect"},"encoding":{"x":{"field":"x1","type":"quantitative"},"x2":{"field":"x2"},"y":{"field":"y1","type":"quantitative"},"y2":{"field":"y2"},"color":{"field":"part","type":"nominal","legend":null,"scale":{"domain":["a red","b blue","c white","d pink","e sky"],"range":["#d83a2e","#1c5fa8","#f4f4f4","#f8c4b4","#86c8f0"]}}}}
]}
